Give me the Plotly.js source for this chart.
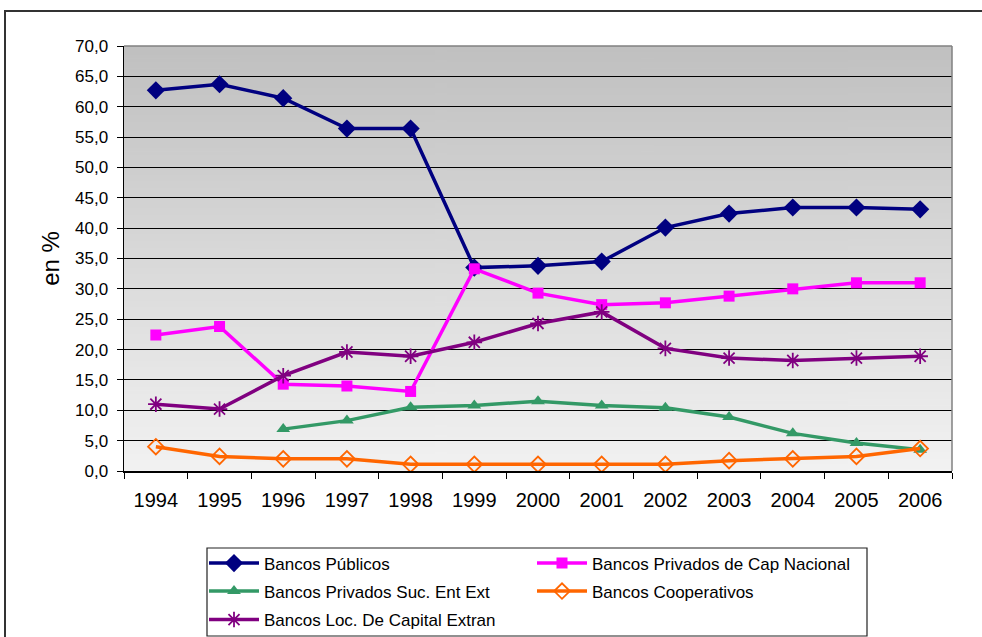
<!DOCTYPE html>
<html>
<head>
<meta charset="utf-8">
<script src="https://cdn.plot.ly/plotly-3.0.1.min.js"></script>
<style>html,body{margin:0;padding:0;background:#fff;}#chart{width:982px;height:637px;}</style>
</head>
<body>
<div id="chart"></div>
<script>
var years = ['1994','1995','1996','1997','1998','1999','2000','2001','2002','2003','2004','2005','2006'];
var publicos = [62.7, 63.7, 61.4, 56.4, 56.4, 33.5, 33.8, 34.5, 40.1, 42.4, 43.4, 43.4, 43.1];
var privNacional = [22.4, 23.8, 14.3, 14.0, 13.1, 33.3, 29.3, 27.4, 27.7, 28.8, 30.0, 31.0, 31.0];
var privSucExt = [null, null, 6.9, 8.3, 10.5, 10.8, 11.5, 10.8, 10.4, 8.9, 6.2, 4.6, 3.5];
var cooperativos = [4.0, 2.4, 2.0, 2.0, 1.1, 1.1, 1.1, 1.1, 1.1, 1.7, 2.0, 2.4, 3.7];
var locCapExtran = [11.0, 10.2, 15.7, 19.6, 18.9, 21.2, 24.3, 26.2, 20.2, 18.6, 18.2, 18.6, 18.9];
var seriesNames = ['Bancos Públicos', 'Bancos Privados de Cap Nacional', 'Bancos Privados Suc. Ent Ext', 'Bancos Cooperativos', 'Bancos Loc. De Capital Extran'];
var yTicks = [0, 5, 10, 15, 20, 25, 30, 35, 40, 45, 50, 55, 60, 65, 70];

// plot-area geometry in pixels (for converting decoration positions to paper coords)
var PL = 124, PR = 952, PT = 46, PB = 471;
function px(x) { return (x - PL) / (PR - PL); }
function py(y) { return (PB - y) / (PB - PT); }

// gradient background image for plot area
var cv = document.createElement('canvas');
cv.width = 4; cv.height = 256;
var ctx = cv.getContext('2d');
var g = ctx.createLinearGradient(0, 0, 0, 256);
g.addColorStop(0, '#c0c0c0');
g.addColorStop(1, '#f2f2f2');
ctx.fillStyle = g;
ctx.fillRect(0, 0, 4, 256);
var bgUrl = cv.toDataURL('image/png');

function tr(y, name, color, symbol, msize, mline, legendId) {
  return {
    x: years, y: y, name: name, type: 'scatter', mode: 'lines+markers',
    line: {color: color, width: 3.5},
    marker: {symbol: symbol, size: msize, color: color, line: {color: color, width: mline}},
    connectgaps: false,
    legend: legendId
  };
}

var data = [
  tr(publicos, seriesNames[0], '#000080', 'diamond', 14, 0, 'legend'),
  tr(privNacional, seriesNames[1], '#FF00FF', 'square', 11, 0, 'legend'),
  tr(privSucExt, seriesNames[2], '#339966', 'triangle-up', 12, 0, 'legend2'),
  tr(cooperativos, seriesNames[3], '#FF6600', 'diamond-open', 12, 1.8, 'legend2'),
  tr(locCapExtran, seriesNames[4], '#800080', 'asterisk-open', 13, 1.8, 'legend3')
];

function legendRow(yc) {
  return {
    orientation: 'h',
    x: px(204), xanchor: 'left',
    y: py(yc), yanchor: 'middle',
    borderwidth: 0, bgcolor: 'rgba(0,0,0,0)',
    font: {size: 17, color: '#000'},
    entrywidth: 263, entrywidthmode: 'pixels',
    traceorder: 'normal',
    itemwidth: 50
  };
}

var layout = {
  width: 982, height: 637,
  margin: {l: PL, r: 982 - PR, t: PT, b: 637 - PB, autoexpand: false},
  paper_bgcolor: '#ffffff',
  plot_bgcolor: 'rgba(0,0,0,0)',
  separators: ', ',
  font: {family: 'Liberation Sans, Arial, sans-serif', color: '#000'},
  showlegend: true,
  xaxis: {
    type: 'category',
    tickvals: years,
    ticks: 'outside', ticklen: 6, tickcolor: '#000', tickwidth: 1,
    tickson: 'boundaries',
    showline: true, linecolor: '#000', linewidth: 1.5,
    showgrid: false, zeroline: false,
    tickfont: {size: 20, color: '#000'},
    ticklabelstandoff: 10,
    range: [-0.5, 12.5], fixedrange: true
  },
  yaxis: {
    range: [0, 70],
    tickvals: yTicks,
    tickformat: '.1f',
    ticks: 'outside', ticklen: 6, tickcolor: '#000', tickwidth: 1,
    showline: true, linecolor: '#000', linewidth: 1.5,
    showgrid: true, gridcolor: '#000', gridwidth: 1,
    zeroline: false,
    tickfont: {size: 17, color: '#000'},
    ticklabelstandoff: 5,
    title: {text: 'en %', font: {size: 24, color: '#000'}, standoff: 8},
    fixedrange: true
  },
  legend: legendRow(563.5),
  legend2: legendRow(591.5),
  legend3: legendRow(620),
  images: [{
    source: bgUrl, xref: 'paper', yref: 'paper',
    x: 0, y: 1, sizex: 1, sizey: 1, sizing: 'stretch', layer: 'below', xanchor: 'left', yanchor: 'top'
  }],
  shapes: [
    {type: 'rect', xref: 'paper', yref: 'paper', x0: px(5), x1: px(990),
     y0: py(650), y1: py(11), line: {color: '#333', width: 2}, fillcolor: 'rgba(0,0,0,0)', layer: 'below'},
    {type: 'rect', xref: 'paper', yref: 'paper', x0: px(207), x1: px(867),
     y0: py(636), y1: py(548), line: {color: '#222', width: 1.2}, fillcolor: '#ffffff', layer: 'below'},
    {type: 'line', xref: 'paper', yref: 'paper', x0: 0, x1: 1, y0: 1, y1: 1, line: {color: '#808080', width: 1.5}},
    {type: 'line', xref: 'paper', yref: 'paper', x0: 1, x1: 1, y0: 0, y1: 1, line: {color: '#808080', width: 1.5}}
  ]
};

Plotly.newPlot('chart', data, layout, {displayModeBar: false, staticPlot: true});
</script>
</body>
</html>
